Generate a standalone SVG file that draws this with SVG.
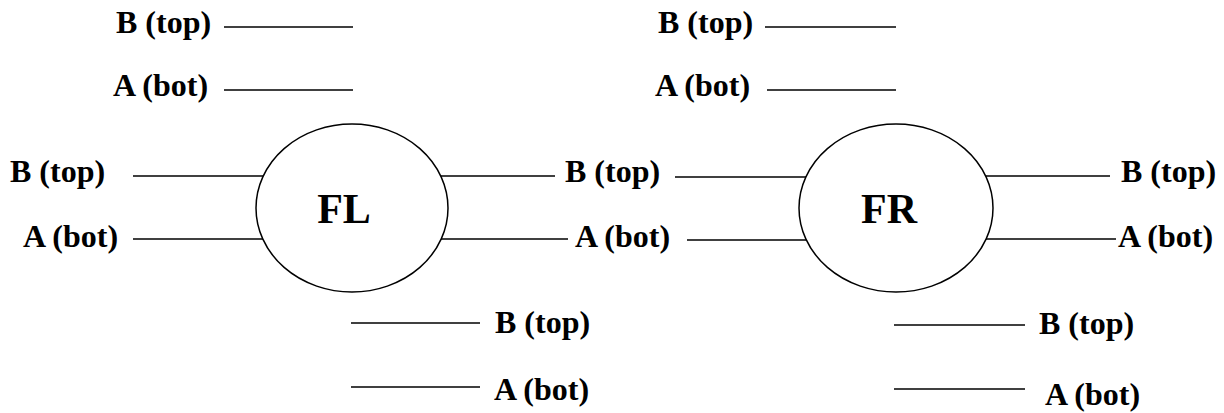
<svg xmlns="http://www.w3.org/2000/svg" width="1224" height="413" viewBox="0 0 1224 413">
  <style>
    .lbl { font-family: "Liberation Serif", "Times New Roman", serif; font-weight: bold; font-size: 32px; fill: #000; }
    .big { font-family: "Liberation Serif", "Times New Roman", serif; font-weight: bold; font-size: 42px; fill: #000; text-anchor: middle; }
    .node { fill: #fff; stroke: #000; stroke-width: 1.5; }
    .wire { stroke: #000; stroke-width: 1.5; fill: none; }
  </style>
  <rect width="1224" height="413" fill="#fff"/>

  <!-- connectors -->
  <g id="connectors">
    <!-- FL side -->
    <line class="wire" x1="224" y1="27" x2="353" y2="27"/>
    <line class="wire" x1="224" y1="90" x2="353" y2="90"/>
    <line class="wire" x1="133" y1="176" x2="264" y2="176"/>
    <line class="wire" x1="133" y1="239" x2="264" y2="239"/>
    <line class="wire" x1="441" y1="176" x2="555" y2="176"/>
    <line class="wire" x1="441" y1="239" x2="568" y2="239"/>
    <line class="wire" x1="351" y1="323" x2="480" y2="323"/>
    <line class="wire" x1="351" y1="387" x2="480" y2="387"/>
    <!-- FR side -->
    <line class="wire" x1="765" y1="27" x2="896" y2="27"/>
    <line class="wire" x1="767" y1="90" x2="896" y2="90"/>
    <line class="wire" x1="675" y1="177" x2="806" y2="177"/>
    <line class="wire" x1="687" y1="240" x2="806" y2="240"/>
    <line class="wire" x1="985" y1="176" x2="1110" y2="176"/>
    <line class="wire" x1="985" y1="239" x2="1116" y2="239"/>
    <line class="wire" x1="894" y1="325" x2="1025" y2="325"/>
    <line class="wire" x1="894" y1="389" x2="1025" y2="389"/>
  </g>

  <!-- FL node -->
  <g id="FL">
    <ellipse class="node" cx="352" cy="208" rx="96" ry="84"/>
    <text class="big" x="344" y="223">FL</text>
  </g>

  <!-- FR node -->
  <g id="FR">
    <ellipse class="node" cx="896" cy="208" rx="97" ry="84"/>
    <text class="big" x="889" y="223">FR</text>
  </g>

  <!-- FL labels -->
  <g id="FL-labels">
    <text class="lbl" x="116" y="33">B (top)</text>
    <text class="lbl" x="113" y="96">A (bot)</text>
    <text class="lbl" x="10" y="182">B (top)</text>
    <text class="lbl" x="23" y="247">A (bot)</text>
    <text class="lbl" x="565" y="182">B (top)</text>
    <text class="lbl" x="575" y="247">A (bot)</text>
    <text class="lbl" x="495" y="333">B (top)</text>
    <text class="lbl" x="494" y="400">A (bot)</text>
  </g>

  <!-- FR labels -->
  <g id="FR-labels">
    <text class="lbl" x="658" y="33">B (top)</text>
    <text class="lbl" x="655" y="96">A (bot)</text>
    <text class="lbl" x="1121" y="182">B (top)</text>
    <text class="lbl" x="1118" y="247">A (bot)</text>
    <text class="lbl" x="1039" y="334">B (top)</text>
    <text class="lbl" x="1045" y="405">A (bot)</text>
  </g>
</svg>
